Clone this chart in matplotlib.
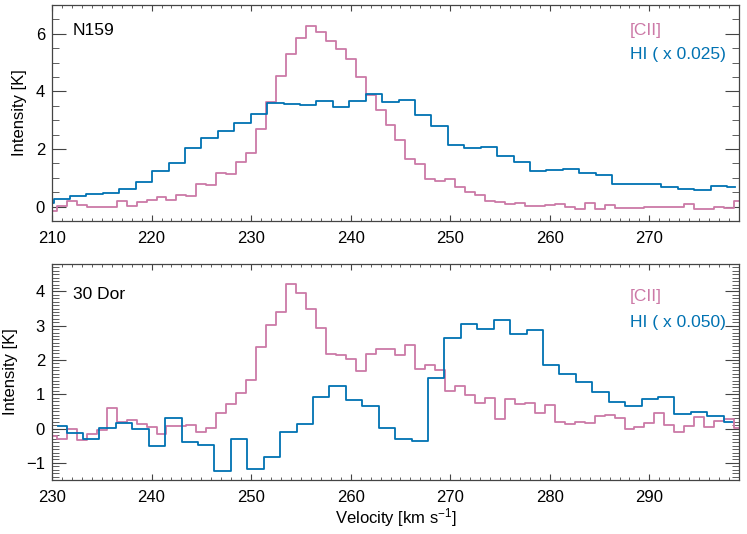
import numpy as np
import matplotlib
matplotlib.use('Agg')
import matplotlib.pyplot as plt
from matplotlib.ticker import MultipleLocator

plt.rcParams['font.family'] = ['Liberation Sans', 'DejaVu Sans']
plt.rcParams['mathtext.default'] = 'regular'

pink = '#cc79a7'
blue = '#0072b2'

# ---- N159 ----
# [CII] channels (1 km/s), first channel centre 210 km/s
n159_cii_v0 = 210.0
n159_cii = [-0.14, 0.03, 0.21, 0.07, -0.01, -0.01, 0.0, 0.19, 0.03, 0.15,
            0.22, 0.33, 0.24, 0.42, 0.38, 0.79, 0.74, 1.18, 1.14, 1.56,
            1.87, 2.69, 3.63, 4.55, 5.29, 5.85, 6.28, 6.06, 5.74, 5.48,
            5.12, 4.49, 3.89, 3.37, 2.84, 2.31, 1.65, 1.49, 0.97, 0.88,
            0.97, 0.67, 0.50, 0.39, 0.20, 0.17, 0.10, 0.14, 0.02, 0.02,
            0.05, 0.10, -0.02, -0.08, 0.14, -0.08, 0.07, -0.06, -0.04, -0.05,
            -0.03, -0.02, 0.0, -0.03, 0.08, -0.08, -0.08, -0.03, -0.05, 0.21]
# HI channels (1.65 km/s), scaled x 0.025
n159_hi_v0 = 209.335
n159_hi = [0.12, 0.25, 0.38, 0.43, 0.48, 0.61, 0.85, 1.25, 1.50, 2.02,
           2.39, 2.63, 2.90, 3.23, 3.59, 3.56, 3.52, 3.66, 3.45, 3.68,
           3.91, 3.62, 3.69, 3.17, 2.80, 2.13, 2.04, 2.08, 1.76, 1.56,
           1.25, 1.28, 1.30, 1.16, 1.10, 0.77, 0.77, 0.80, 0.67, 0.61,
           0.57, 0.72, 0.69]

# ---- 30 Dor ----
dor_cii_v0 = 230.0
dor_cii = [-0.21, -0.30, 0.0, -0.33, -0.15, -0.04, 0.61, 0.20, 0.24, 0.13,
           0.05, -0.17, 0.08, 0.08, 0.10, -0.10, 0.03, 0.44, 0.73, 1.05,
           1.42, 2.37, 3.02, 3.39, 4.22, 3.94, 3.49, 2.92, 2.17, 2.14,
           2.03, 1.69, 2.18, 2.31, 2.31, 2.14, 2.43, 1.74, 1.84, 1.72,
           1.09, 1.23, 0.98, 0.76, 0.89, 0.27, 0.87, 0.72, 0.74, 0.44,
           0.69, 0.19, 0.13, 0.19, 0.15, 0.38, 0.40, 0.30, 0.0, 0.04,
           0.17, 0.45, 0.11, -0.10, 0.07, 0.34, 0.05, 0.22, 0.27, 0.03]
# HI scaled x 0.050
dor_hi_v0 = 230.645
dor_hi = [0.08, -0.13, -0.31, 0.03, 0.17, 0.0, -0.52, 0.31, -0.40, -0.48,
          -1.23, -0.30, -1.18, -0.83, -0.09, 0.12, 0.92, 1.24, 0.82, 0.66,
          0.03, -0.30, -0.36, 1.48, 2.63, 3.06, 2.89, 3.18, 2.77, 2.87,
          1.84, 1.58, 1.36, 1.07, 0.78, 0.65, 0.87, 0.92, 0.43, 0.49,
          0.37, 0.19]

cii_dv = 1.0
hi_dv = 1.65


def chan(v0, dv, vals):
    return v0 + dv * np.arange(len(vals))


fig = plt.figure(figsize=(7.47, 5.34), dpi=100)
ax1 = fig.add_axes([0.0696, 0.5861, 0.9197, 0.4045])
ax2 = fig.add_axes([0.0696, 0.1011, 0.9197, 0.4045])

panels = [
    (ax1, n159_cii_v0, n159_cii, n159_hi_v0, n159_hi, (210, 279), (-0.5, 7.0),
     2, 0.5, 'N159', 'HI ( x 0.025)', 0.863, 0.862, 0.751),
    (ax2, dor_cii_v0, dor_cii, dor_hi_v0, dor_hi, (230, 299), (-1.5, 4.8),
     1, 0.1, '30 Dor', 'HI ( x 0.050)', 0.837, 0.830, 0.707),
]

for (ax, cv0, cii, hv0, hi, xl, yl, ymaj, ymin, name, hilab,
     ny, cy, hy) in panels:
    ax.step(chan(cv0, cii_dv, cii), cii, where='mid', color=pink, lw=1.3)
    ax.step(chan(hv0, hi_dv, hi), hi, where='mid', color=blue, lw=1.3)
    ax.set_xlim(*xl)
    ax.set_ylim(*yl)
    ax.xaxis.set_major_locator(MultipleLocator(10))
    ax.xaxis.set_minor_locator(MultipleLocator(1))
    ax.yaxis.set_major_locator(MultipleLocator(ymaj))
    ax.yaxis.set_minor_locator(MultipleLocator(ymin))
    ax.tick_params(which='both', direction='in', top=True, right=True,
                   labelsize=12, color='#444444')
    ax.tick_params(axis='x', which='major', length=4, width=0.8, pad=7)
    ax.tick_params(axis='x', which='minor', length=2, width=0.6)
    ax.tick_params(axis='y', which='major', length=10, width=0.8, pad=5)
    ax.tick_params(axis='y', which='minor', length=5, width=0.6)
    for s in ax.spines.values():
        s.set_color('#444444')
        s.set_linewidth(0.9)
    ax.set_ylabel('Intensity [K]', fontsize=12, labelpad=6)
    ax.text(0.0306, ny, name, transform=ax.transAxes, fontsize=12.5,
            color='black')
    ax.text(0.841, cy, '[CII]', transform=ax.transAxes, fontsize=12.5,
            color=pink)
    ax.text(0.841, hy, hilab, transform=ax.transAxes, fontsize=12.5,
            color=blue)

ax2.set_xlabel('Velocity [km s$^{-1}$]', fontsize=12, labelpad=1)

fig.savefig('out.png', dpi=100)
